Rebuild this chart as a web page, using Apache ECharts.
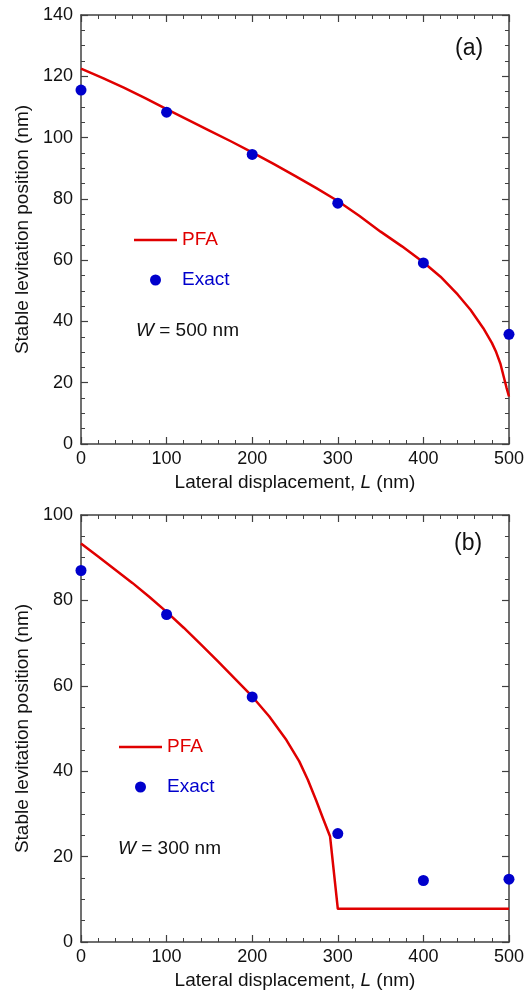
<!DOCTYPE html>
<html>
<head>
<meta charset="utf-8">
<script src="https://cdn.jsdelivr.net/npm/echarts@6/dist/echarts.min.js"></script>
<style>
  html, body { margin: 0; padding: 0; background: #fff; }
  #chart { width: 527px; height: 999px; }
</style>
</head>
<body>
<div id="chart"></div>
<script>
// panel (a): W = 500 nm
const pfaA = [[0, 122.5], [25, 119.5], [50, 116.3], [75, 112.9], [100, 109.3], [125, 105.8],
  [150, 102.3], [175, 98.8], [200, 95.2], [225, 91.4], [250, 87.5], [275, 83.5], [300, 79.3],
  [325, 74.5], [350, 69.3], [375, 64.5], [400, 59.3], [420, 54.6], [440, 48.8], [455, 43.8],
  [470, 37.8], [480, 33.0], [485, 30.0], [490, 26.2], [494, 21.8], [497, 18.5], [500, 15.5]];
const exactA = [[0, 115.5], [100, 108.3], [200, 94.5], [300, 78.6], [400, 59.1], [500, 35.8]];

// panel (b): W = 300 nm
const pfaB = [[0, 93.3], [20, 90.3], [40, 87.2], [60, 84.1], [80, 80.8], [100, 77.3],
  [120, 73.6], [140, 69.7], [160, 65.7], [180, 61.6], [200, 57.5], [220, 52.8], [240, 47.3],
  [255, 42.3], [265, 38.0], [275, 33.0], [283, 28.8], [291, 24.7], [300, 7.8], [500, 7.8]];
const exactB = [[0, 87.0], [100, 76.7], [200, 57.4], [300, 25.4], [400, 14.4], [500, 14.7]];

const xTicks = [0, 100, 200, 300, 400, 500];
const yMaxA = 140;
const yMaxB = 100;

const chart = echarts.init(document.getElementById("chart"));

const font = "Liberation Sans, Arial, sans-serif";
const axisColor = "#404040";
const red = "#e00000";
const blue = "#0000cc";

const baseAxis = {
  axisLine: { show: true, onZero: false, lineStyle: { color: axisColor, width: 1.5 } },
  axisTick: { show: true, inside: true, length: 7, lineStyle: { color: axisColor, width: 1.2 } },
  minorTick: { show: true, length: 4, lineStyle: { color: axisColor, width: 1 } },
  splitLine: { show: false },
  axisLabel: { color: "#111", fontSize: 18, fontFamily: font },
};

function xAx(gridIndex, bottom) {
  return Object.assign({}, baseAxis, {
    type: "value", gridIndex, min: xTicks[0], max: xTicks[xTicks.length - 1], interval: 100,
    position: bottom ? "bottom" : "top",
    minorTick: Object.assign({}, baseAxis.minorTick, { splitNumber: 5 }),
    axisLabel: Object.assign({}, baseAxis.axisLabel, { show: bottom, margin: 6 }),
    name: bottom ? "Lateral displacement, {i|L} (nm)" : "",
    nameLocation: "middle", nameGap: 29,
    nameTextStyle: { color: "#111", fontSize: 19, fontFamily: font,
      rich: { i: { fontStyle: "italic", fontSize: 19, fontFamily: font, color: "#111" } } },
  });
}

function yAx(gridIndex, max, left) {
  return Object.assign({}, baseAxis, {
    type: "value", gridIndex, min: 0, max, interval: 20,
    position: left ? "left" : "right",
    minorTick: Object.assign({}, baseAxis.minorTick, { splitNumber: 4 }),
    axisLabel: Object.assign({}, baseAxis.axisLabel, { show: left, margin: 8 }),
    name: left ? "Stable levitation position (nm)" : "",
    nameLocation: "middle", nameGap: 48,
    nameTextStyle: { color: "#111", fontSize: 19, fontFamily: font },
  });
}

function lineSeries(data, xi, yi) {
  return { name: "PFA", type: "line", xAxisIndex: xi, yAxisIndex: yi, data,
    smooth: false, showSymbol: false, symbol: "none",
    lineStyle: { color: red, width: 2.5, join: "round" }, itemStyle: { color: red }, z: 2 };
}
function dotSeries(data, xi, yi) {
  return { name: "Exact", type: "scatter", xAxisIndex: xi, yAxisIndex: yi, data,
    symbol: "circle", symbolSize: 11, itemStyle: { color: blue, opacity: 1 }, z: 3 };
}

function legendAt(left, top) {
  return {
    orient: "vertical", left, top, padding: 0, itemWidth: 43, itemHeight: 11, itemGap: 20,
    selectedMode: false,
    textStyle: { fontSize: 19, fontFamily: font, lineHeight: 20 },
    data: [
      { name: "PFA", icon: "path://M0,0 L100,0 L100,6 L0,6 Z", itemStyle: { color: red },
        textStyle: { color: red } },
      { name: "Exact", icon: "circle", textStyle: { color: blue } },
    ],
  };
}

chart.setOption({
  animation: false,
  grid: [
    { left: 81, top: 15, width: 430, height: 429 },
    { left: 81, top: 515, width: 430, height: 427 },
  ],
  xAxis: [xAx(0, true), xAx(0, false), xAx(1, true), xAx(1, false)],
  yAxis: [yAx(0, yMaxA, true), yAx(0, yMaxA, false), yAx(1, yMaxB, true), yAx(1, yMaxB, false)],
  legend: [legendAt(134, 230), legendAt(119, 737)],
  series: [
    lineSeries(pfaA, 0, 0),
    dotSeries(exactA, 0, 0),
    lineSeries(pfaB, 2, 2),
    dotSeries(exactB, 2, 2),
  ],
  graphic: [
    { type: "text", left: 455, top: 37, style: { text: "(a)", fontSize: 23, fontFamily: font, fill: "#111" } },
    { type: "text", left: 454, top: 532, style: { text: "(b)", fontSize: 23, fontFamily: font, fill: "#111" } },
    { type: "text", left: 136, top: 321, style: { text: "{i|W} = 500 nm", fontSize: 19, fontFamily: font, fill: "#111",
      rich: { i: { fontStyle: "italic", fontSize: 19, fontFamily: font, fill: "#111" } } } },
    { type: "text", left: 118, top: 839, style: { text: "{i|W} = 300 nm", fontSize: 19, fontFamily: font, fill: "#111",
      rich: { i: { fontStyle: "italic", fontSize: 19, fontFamily: font, fill: "#111" } } } },
  ],
});
</script>
</body>
</html>
